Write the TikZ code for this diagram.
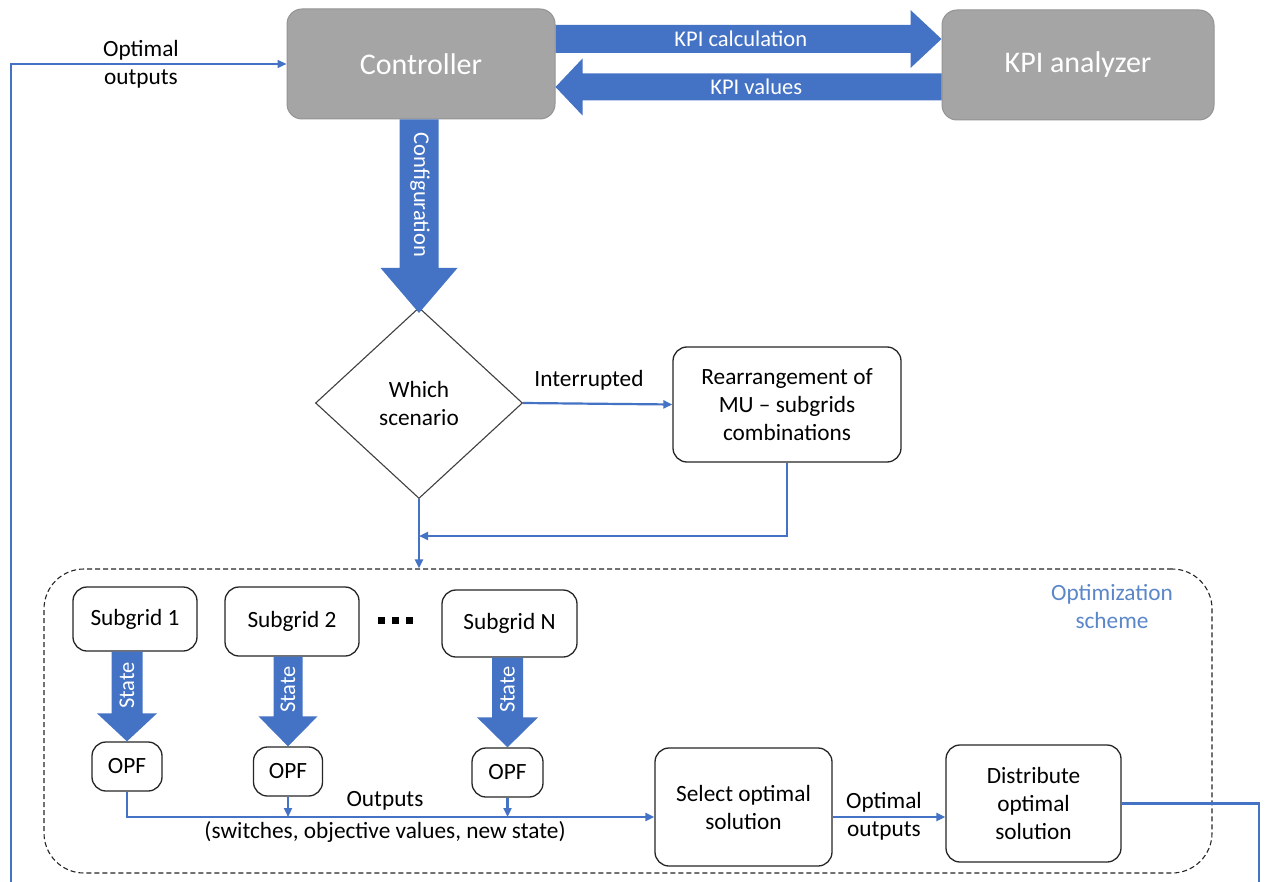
\documentclass[tikz,border=0pt]{standalone}
\usepackage{fontspec}
\setmainfont{Carlito}
\usetikzlibrary{shapes.geometric,arrows.meta,calc}
\definecolor{accent}{HTML}{4472C4}
\definecolor{boxgray}{HTML}{A5A5A5}
\definecolor{schemeblue}{HTML}{5B87C9}

% wide block arrow from #1 to tip #2: body half-width #3, head half-width #4, head length #5
\newcommand\fatarrow[5]{%
  \coordinate (fa-b) at ($(#2)!#5pt!(#1)$);
  \fill[accent] ($(#1)!#3pt!90:(#2)$) -- ($(fa-b)!#3pt!90:(#2)$) -- ($(fa-b)!#4pt!90:(#2)$)
    -- (#2) -- ($(fa-b)!#4pt!-90:(#2)$) -- ($(fa-b)!#3pt!-90:(#2)$) -- ($(#1)!#3pt!-90:(#2)$) -- cycle;
}

\begin{document}
\begin{tikzpicture}[x=1pt,y=-1pt,
  txt/.style={font=\fontsize{23.3}{28}\selectfont, align=center, inner sep=0pt},
  box/.style={txt, draw=black!85, line width=1.3pt, rounded corners=14pt, fill=white},
  graybox/.style={fill=boxgray, draw=boxgray!90!black, line width=1pt, rounded corners=15pt,
    text=white, font=\fontsize{30}{34}\selectfont, inner sep=0pt},
  arrowtext/.style={text=white, font=\fontsize{22.5}{26}\selectfont, inner sep=0pt},
  conn/.style={draw=accent, line width=2.2pt, -{Triangle[length=9pt,width=8pt]}},
  wire/.style={draw=accent, line width=2.2pt}]

\fill[white] (0,0) rectangle (1265,882);
\useasboundingbox (0,0) rectangle (1265,882);

% ---- top row: controller and KPI analyzer
\node[graybox, minimum width=268pt, minimum height=110pt] (ctrl) at (421,64) {Controller};
\node[graybox, minimum width=272pt, minimum height=110pt] (kpi) at (1078,65) {KPI analyzer};

\coordinate (kc-s) at ($(ctrl.east)+(0,-25)$);
\coordinate (kc-t) at (kpi.west |- kc-s);
\fatarrow{kc-s}{kc-t}{14}{29}{31}
\node[arrowtext] (tkc) at ($(kc-s)!0.48!(kc-t)$) {KPI calculation};

\coordinate (kv-t) at ($(ctrl.east)+(0,23)$);
\coordinate (kv-s) at (kpi.west |- kv-t);
\fatarrow{kv-s}{kv-t}{13.5}{28.5}{27}
\node[arrowtext] (tkv) at ($(kv-t)!0.52!(kv-s)$) {KPI values};

% ---- decision
\node[draw=black!75, line width=1.1pt, diamond, minimum width=207pt, minimum height=191pt,
  inner sep=0pt, txt] (dia) at (419,403) {Which\\scenario};

\coordinate (cf-s) at (dia.north |- ctrl.south);
\coordinate (cf-t) at ($(dia.north)+(0,6)$);
\fatarrow{cf-s}{cf-t}{19.5}{38.5}{45}
\node[arrowtext, rotate=-90] (tcf) at (420,195) {Configuration};

\node[box, minimum width=228pt, minimum height=115pt] (rear) at (787,404.5)
  {Rearrangement of\\MU – subgrids\\combinations};

\draw[conn] (dia.east) -- (rear.west);
\node[txt] (lint) at (589,380) {Interrupted};

% ---- optimization scheme
\node[draw=black!85, line width=1.1pt, dash pattern=on 5pt off 3pt, rounded corners=40pt,
  minimum width=1168pt, minimum height=304pt] (scheme) at (628,721) {};
\node[txt, text=schemeblue] (tsch) at (1112,607) {Optimization\\scheme};

\coordinate (retY) at (0,536);
\coordinate (join) at (dia.south |- retY);
\draw[conn] (rear.south) |- (join);
\draw[conn] (dia.south) -- (dia.south |- scheme.north);

\node[box, minimum width=124pt, minimum height=64pt] (sg1) at (135,619) {Subgrid 1};
\node[box, minimum width=134pt, minimum height=69pt] (sg2) at (292,621.5) {Subgrid 2};
\node[box, minimum width=135pt, minimum height=67pt] (sgn) at (509.5,623.5) {Subgrid N};

\foreach \dx in {381,395,409} \fill (\dx-3.5,616.5) rectangle (\dx+3.5,623.5);

\node[box, minimum width=70pt, minimum height=49pt] (opf1) at (127,766.5) {OPF};
\node[box, minimum width=69pt, minimum height=49pt] (opf2) at (288,771.5) {OPF};
\node[box, minimum width=71pt, minimum height=49pt] (opfn) at (507.5,772.5) {OPF};

\coordinate (st1-s) at (opf1.north |- sg1.south);
\fatarrow{st1-s}{opf1.north}{15.5}{30}{28}
\node[arrowtext, rotate=90] (tst1) at ($(st1-s)+(0,34)$) {State};
\coordinate (st2-s) at (opf2.north |- sg2.south);
\fatarrow{st2-s}{opf2.north}{14.5}{29.5}{30}
\node[arrowtext, rotate=90] (tst2) at ($(st2-s)+(0,33)$) {State};
\coordinate (stn-s) at (opfn.north |- sgn.south);
\fatarrow{stn-s}{opfn.north}{15.5}{30.5}{30}
\node[arrowtext, rotate=90] (tstn) at ($(stn-s)+(0,32)$) {State};

\node[box, minimum width=177pt, minimum height=118pt] (sel) at (743.5,807) {Select optimal\\solution};
\node[box, minimum width=175pt, minimum height=117pt] (dist) at (1033.5,803.5) {Distribute\\optimal\\solution};

\coordinate (busY) at (0,817);
\draw[conn] (opf1.south) |- (sel.west |- busY);
\draw[conn] (opf2.south) -- (opf2.south |- busY);
\draw[conn] (opfn.south) -- (opfn.south |- busY);
\node[txt] (lout) at (385,801) {Outputs};
\node[txt] (lsw) at (385,832) {(switches, objective values, new state)};

\draw[conn] (sel.east |- busY) -- (dist.west |- busY);
\node[txt] (lopt2) at (884,816) {Optimal\\outputs};

% ---- feedback to the controller
\coordinate (fbR) at (1259,882);
\coordinate (fbL) at (11,882);
\draw[wire] (dist.east) -| (fbR);
\draw[conn] (fbL) |- (ctrl.west);
\node[txt] (lopt1) at (141,64) {Optimal\\outputs};

\end{tikzpicture}
\end{document}
